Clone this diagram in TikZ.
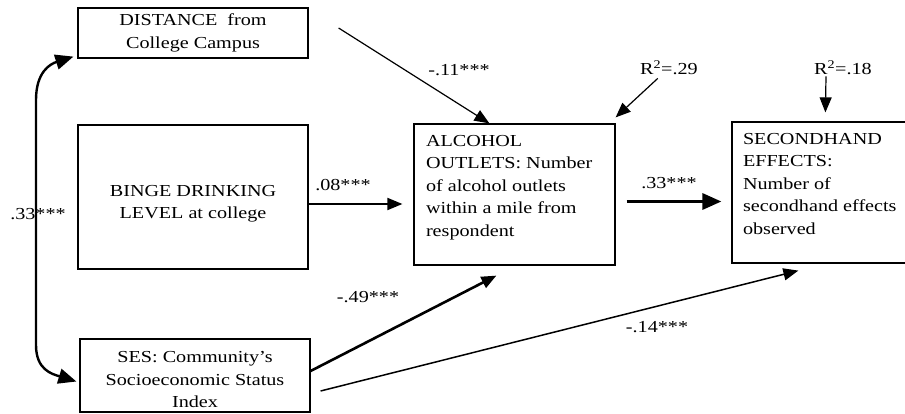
\documentclass[tikz,border=0pt]{standalone}
\usepackage{fontspec}
\setmainfont{Liberation Serif}[FakeStretch=1.2]
\usetikzlibrary{arrows.meta,positioning,calc}
\tikzset{
  varbox/.style={draw=black, line width=1.2pt, align=center, inner sep=3pt},
  topbox/.style={draw=black, line width=1.2pt, inner xsep=12pt, inner ysep=11pt},
  coef/.style={inner sep=1pt},
  arrow/.style={-{Triangle[length=15pt,width=12pt]}, line width=1.8pt},
  thinarrow/.style={-{Triangle[length=15pt,width=12pt]}, line width=1.2pt},
  boldarrow/.style={-{Triangle[length=19pt,width=16pt]}, line width=3.2pt},
  corr/.style={{Triangle[length=18pt,width=15pt]}-{Triangle[length=18pt,width=15pt]}, line width=2.4pt}
}
\newcommand{\topcell}[3]{\parbox[c][#2][t]{#1}{\raggedright #3}}

\begin{document}
\begin{tikzpicture}[x=1pt, y=-1pt, font=\fontsize{16.8}{22.5}\selectfont]
  \useasboundingbox (0,0) rectangle (905,414);
  \clip (0,0) rectangle (905,414);
  % predictors
  \node[varbox, minimum width=230pt, minimum height=50pt] (dist) at (193,33) {DISTANCE~~from\\College Campus};
  \node[varbox, minimum width=230pt, minimum height=144pt,
        label={[align=center, yshift=-7pt]center:{BINGE DRINKING\\LEVEL at college}}] (binge) at (193,197) {};
  \node[varbox, minimum width=230pt, minimum height=73pt,
        label={[align=center, yshift=-4pt]center:{SES: Community's\\Socioeconomic Status\\Index}}] (ses) at (195,375.5) {};
  % mediator and outcome
  \node[topbox] (alcohol) at (514.5,194.5) {\topcell{177pt}{119pt}{ALCOHOL\\OUTLETS: Number\\of alcohol outlets\\within a mile from\\respondent}};
  \node[topbox, inner xsep=11pt] (second) at (827,192.5) {\topcell{168pt}{119pt}{SECONDHAND\\EFFECTS:\\Number of\\secondhand effects\\observed}};
  \node[coef] (r2a) at (669,68) {R\textsuperscript{2}=.29};
  \node[coef] (r2b) at (843,68) {R\textsuperscript{2}=.18};

  % paths
  \draw[thinarrow] ($(dist.east)+(30,-5)$) -- ($(alcohol.north west)+(76,0)$);
  \draw[arrow] ($(binge.east)+(0,7)$) -- ($(alcohol.west)+(-11,9.5)$);
  \draw[boldarrow] ($(alcohol.east)+(11,7)$) -- ($(second.west)+(-10,9)$);
  \draw[arrow, line width=2.6pt] ($(ses.east)+(0,-4.5)$) -- ($(alcohol.south west)+(83,10)$);
  \draw[thinarrow, line width=1.5pt] ($(ses.east)+(10,15.5)$) -- ($(second.south west)+(67,7)$);
  \draw[thinarrow, shorten <=3pt] (r2a) -- ($(alcohol.north east)+(0,-6)$);
  \draw[thinarrow] ($(r2b.south)+(-17,0)$) -- ($(second.north west)+(94,-9)$);

  % correlation
  \coordinate (cortop) at ($(dist.south west)+(-4,-2)$);
  \coordinate (corbot) at ($(ses.west)+(-3,6)$);
  \draw[corr] (cortop) .. controls (50,64) and (36,72) .. (36,100) -- (36,345) .. controls (36,370) and (52,374) .. (corbot);

  % coefficients
  \node[coef] at (459,70) {-.11***};
  \node[coef] at (343,185) {.08***};
  \node[coef] at (669,183) {.33***};
  \node[coef] at (368,297) {-.49***};
  \node[coef] at (657,327) {-.14***};
  \node[coef] at (38,214) {.33***};
\end{tikzpicture}
\end{document}
